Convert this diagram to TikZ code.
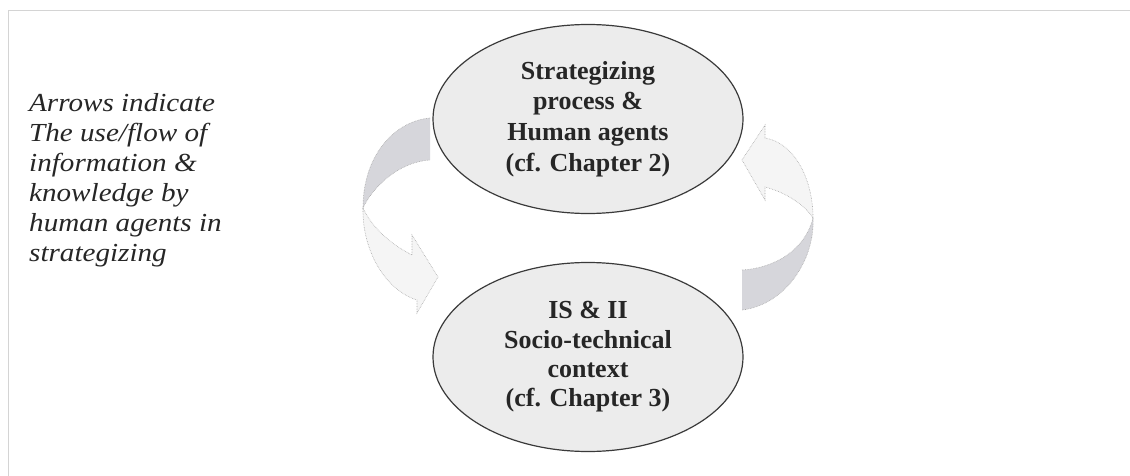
\documentclass[tikz,border=0pt]{standalone}
\usepackage{fontspec}
\setmainfont{Liberation Serif}
\newfontfamily\notefont[FakeStretch=1.12]{Liberation Serif}
\usetikzlibrary{shapes.geometric}
\definecolor{ellfill}{HTML}{ECECEC}
\definecolor{ellline}{HTML}{3A3A3A}
\definecolor{ribbondark}{HTML}{D6D6DB}
\definecolor{ribbonlight}{HTML}{F5F5F5}
\definecolor{ribbonedge}{HTML}{A8A8A8}
\definecolor{framegray}{HTML}{D4D4D4}
\tikzset{
  topic/.style={ellipse, draw=ellline, line width=1.2pt, fill=ellfill,
    minimum width=310pt, minimum height=189pt, inner sep=0pt,
    align=center, text=black!85},
  ribbon/.style={draw=ribbonedge, line width=0.6pt, densely dotted},
  note/.style={align=left, inner sep=0pt, anchor=north west, text=black!85,
    font={\notefont\itshape\fontsize{26}{30}\selectfont}}
}
\begin{document}
\begin{tikzpicture}[x=1pt,y=-1pt]
  % canvas and faint frame
  \fill[white] (0,0) rectangle (1130,476);
  \useasboundingbox (0,0) rectangle (1130,476);
  \draw[framegray, line width=0.8pt] (8,476) -- (8,10) -- (1130,10);

  % caption on the left
  \node[note] (caption) at (29,93)
    {Arrows indicate\\The use/flow of\\information \&\\knowledge by\\human agents in\\strategizing};

  % left ribbon arrow: from the upper topic down to the lower one
  \fill[ribbondark] (430,118) .. controls (395,121) and (363,155) .. (363,208)
    .. controls (372,188) and (398,162) .. (430,160) -- cycle;
  \draw[ribbon] (430,118) .. controls (395,121) and (363,155) .. (363,208)
    .. controls (372,188) and (398,162) .. (430,160);
  \filldraw[ribbon, fill=ribbonlight] (363,208) .. controls (362,250) and (385,290) .. (417,300)
    -- (417,313) -- (438,277) -- (412,235) -- (412,255)
    .. controls (392,245) and (372,228) .. (363,208) -- cycle;

  % right ribbon arrow: from the lower topic back up to the upper one
  \fill[ribbondark] (742,270) .. controls (775,268) and (805,250) .. (813,218)
    .. controls (815,260) and (785,305) .. (742,310) -- cycle;
  \draw[ribbon] (742,270) .. controls (775,268) and (805,250) .. (813,218)
    .. controls (815,260) and (785,305) .. (742,310);
  \filldraw[ribbon, fill=ribbonlight] (813,218) .. controls (813,180) and (795,143) .. (765,138)
    -- (765,125) -- (742,160) -- (765,200) -- (765,187)
    .. controls (785,192) and (805,205) .. (813,218) -- cycle;

  % the two topics
  \node[topic, font={\bfseries\fontsize{26}{30.7}\selectfont}] (strat) at (588,119)
    {Strategizing\\process \&\\Human agents\\(cf. Chapter 2)};
  \node[topic, font={\bfseries\fontsize{26}{29.3}\selectfont}] (context) at (588,357)
    {IS \& II\\Socio-technical\\context\\(cf. Chapter 3)};
\end{tikzpicture}
\end{document}
